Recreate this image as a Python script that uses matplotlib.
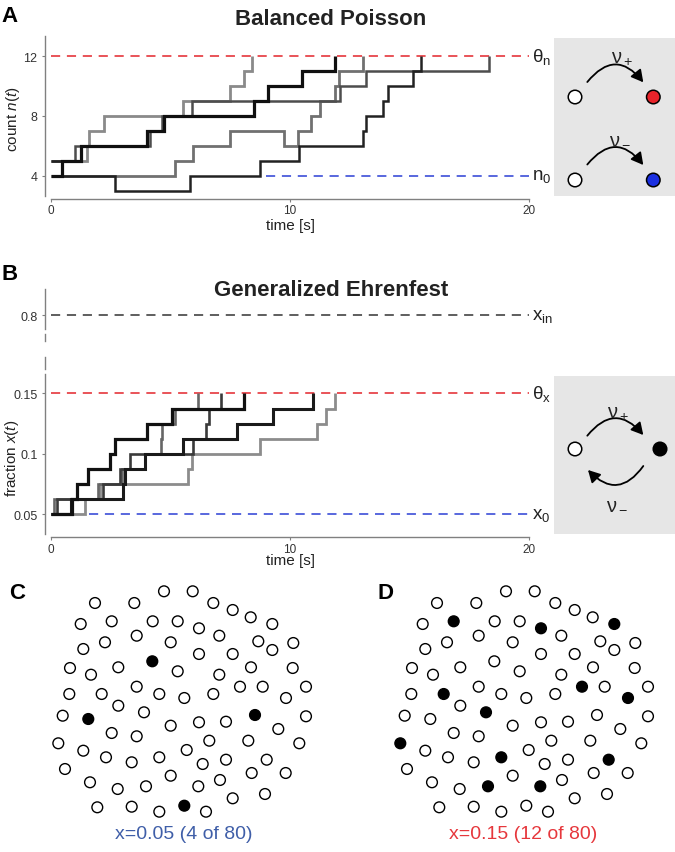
import matplotlib
matplotlib.use('Agg')
import matplotlib.pyplot as plt
import numpy as np
from matplotlib.patches import FancyArrowPatch
from matplotlib.lines import Line2D

plt.rcParams['font.family'] = ['Liberation Sans', 'DejaVu Sans']
plt.rcParams['mathtext.fontset'] = 'custom'
plt.rcParams['mathtext.rm'] = 'Liberation Sans'
plt.rcParams['mathtext.it'] = 'Liberation Sans:italic'
plt.rcParams['mathtext.bf'] = 'Liberation Sans:bold'

# ---- data: panel A, balanced Poisson (jump time [s], count after jump)
a1_t = [0, 1.5, 1.62, 2.23, 5.52, 7.5, 8.08, 8.4]
a1_n = [5, 6, 7, 8, 9, 10, 11, 12]
a2_t = [0, 0.47, 1.26, 4.04, 4.74, 8.5, 9.1, 10.52, 11.9]
a2_n = [4, 5, 6, 7, 8, 9, 10, 11, 12]
a3_t = [0, 5.2, 5.96, 7.49, 9.75, 10.33, 10.88, 11.26, 11.88, 12.07, 13.04]
a3_n = [4, 5, 6, 7, 6, 7, 8, 9, 10, 11, 12]
a4_t = [0, 0.47, 2.68, 5.84, 8.74, 10.38, 13.04, 13.2, 13.9, 14.12, 15.16, 15.47]
a4_n = [5, 4, 3, 4, 5, 6, 7, 8, 9, 10, 11, 12]
a5_t = [0, 1.0, 4.15, 4.65, 5.89, 12.09, 13.18, 18.33]
a5_n = [5, 6, 7, 8, 9, 10, 11, 12]
theta_n = 12
n0 = 4
n0_line_start = 9.0

# ---- data: panel B, generalized Ehrenfest (jump time [s], active units of 80)
n_units = 80
b1_t = [0, 0.88, 1.12, 1.54, 2.49, 2.7, 4.02, 5.07, 8.07]
b1_k = [4, 5, 6, 7, 8, 9, 10, 11, 12]
b2_t = [0, 0.86, 3.03, 3.1, 3.93, 5.54, 7.77, 9.3, 10.98]
b2_k = [4, 5, 6, 7, 8, 9, 10, 11, 12]
b3_t = [0, 0.25, 2.2, 2.9, 3.3, 5.96, 6.5, 6.6, 7.14]
b3_k = [4, 5, 6, 7, 8, 9, 10, 11, 12]
b4_t = [0, 0.15, 1.98, 3.0, 3.93, 4.6, 4.65, 5.2, 6.16]
b4_k = [4, 5, 6, 7, 8, 9, 10, 11, 12]
b5_t = [0, 1.42, 2.05, 5.75, 5.9, 8.74, 11.12, 11.53, 11.88]
b5_k = [4, 5, 6, 7, 8, 9, 10, 11, 12]
theta_x = 0.15
x0 = 0.05
x_in = 0.8
x0_line_start = 1.6
t_end = 20

# ---- data: panels C/D, unit layout (same for both) and active units
dot_x = [114.0, 142.7, 45.0, 84.3, 163.3, 182.7, 200.7, 222.3, 30.7, 61.7,
         102.7, 127.7, 149.0, 169.3, 33.3, 55.0, 86.7, 120.7, 208.3, 222.3,
         243.3, 149.0, 182.7, 102.3, 20.0, 41.0, 68.3, 127.7, 169.3, 201.0,
         242.7, 19.3, 51.7, 86.7, 109.3, 134.3, 163.3, 190.0, 212.7, 236.0,
         256.0, 68.3, 94.0, 12.7, 38.3, 205.0, 256.0, 120.7, 149.0, 176.0,
         228.3, 61.7, 86.7, 159.3, 198.3, 249.3, 8.3, 33.3, 56.0, 81.7,
         109.3, 136.7, 152.7, 176.0, 216.7, 15.0, 120.7, 170.0, 201.7, 235.7,
         40.0, 67.7, 96.0, 148.3, 182.7, 215.0, 47.3, 81.7, 109.3, 134.3, 156.0]
dot_y = [7.3, 7.3, 19.0, 19.0, 19.0, 26.0, 33.3, 40.0, 40.0, 37.3,
         37.3, 37.3, 44.3, 51.7, 65.0, 58.3, 51.7, 58.3, 57.3, 66.0,
         59.0, 70.0, 70.0, 77.3, 84.0, 90.7, 83.3, 87.3, 90.7, 83.3,
         84.0, 110.0, 110.0, 102.7, 110.0, 114.0, 110.0, 102.7, 102.7, 114.0,
         102.7, 121.7, 128.3, 131.7, 135.0, 131.0, 132.3, 141.7, 138.3, 137.7,
         145.0, 149.0, 152.3, 156.7, 156.7, 159.3, 159.3, 166.7, 173.3, 178.3,
         173.3, 166.0, 180.0, 175.7, 175.7, 185.0, 191.7, 196.0, 189.0, 189.0,
         198.3, 205.0, 202.3, 202.3, 214.3, 210.0, 223.3, 222.7, 227.7, 221.7, 227.7]
active_c = [23, 44, 45, 79]
active_d = [7, 9, 12, 32, 37, 39, 42, 56, 60, 64, 72, 73]
caption_c = 'x=0.05 (4 of 80)'
caption_d = 'x=0.15 (12 of 80)'

W, H = 675, 853
fig = plt.figure(figsize=(W / 100, H / 100), dpi=100)


def box(l, t, r, b):
    return [l / W, 1 - b / H, (r - l) / W, (b - t) / H]


def fx(x):
    return x / W


def fy(y):
    return 1 - y / H


AX_GREY = '#808080'
TXT = '#222222'
RED = '#e3242b'
BLUE = '#2b3fd4'
DASH = (6.0, 4.4)


def style_axes(ax, left_out=4, bottom_out=2.2):
    ax.spines[['top', 'right']].set_visible(False)
    for s in ('left', 'bottom'):
        ax.spines[s].set_color(AX_GREY)
        ax.spines[s].set_linewidth(1)
    ax.spines['left'].set_position(('outward', left_out))
    ax.spines['bottom'].set_position(('outward', bottom_out))
    ax.tick_params(length=2.5, width=0.8, color=AX_GREY, labelsize=9,
                   labelcolor='#333333')
    ax.tick_params(axis='y', pad=3)
    ax.tick_params(axis='x', pad=1.5, labelsize=8.5)
    ax.patch.set_alpha(0)


def step_line(ax, t, v, color, lw):
    ax.step(t, v, where='post', color=color, lw=lw,
            solid_joinstyle='miter', solid_capstyle='butt')


def dashed(ax, start, end, val, color):
    ax.plot([start, end], [val, val], color=color, lw=1.1, dashes=DASH)


# ---------------- panel A
axA = fig.add_axes(box(50.7, 36.7, 529, 196.7))
style_axes(axA)
axA.set_xlim(0, t_end)
axA.set_ylim(2.66, 13.38)
axA.set_xticks([0, 10, 20])
axA.set_yticks([4, 8, 12])
dashed(axA, 0, t_end, theta_n, RED)
dashed(axA, n0_line_start, t_end, n0, BLUE)
step_line(axA, a1_t, a1_n, '#8a8a8a', 2.0)
step_line(axA, a3_t, a3_n, '#707070', 2.0)
step_line(axA, a5_t, a5_n, '#4d4d4d', 1.8)
step_line(axA, a4_t, a4_n, '#222222', 1.8)
step_line(axA, a2_t, a2_n, '#101010', 2.3)
axA.text(t_end + 0.12, theta_n, r'$\mathrm{\theta_n}$', fontsize=13.5,
         va='center', ha='left', color=TXT, clip_on=False)
axA.text(t_end + 0.12, n0, r'$\mathrm{n_0}$', fontsize=13.5,
         va='center', ha='left', color=TXT, clip_on=False)

fig.text(fx(331), fy(19.5), 'Balanced Poisson', ha='center', va='center',
         fontsize=16, fontweight='bold', color=TXT)
fig.text(fx(12.5), fy(119.5), r'count $n(t)$', rotation=90, ha='center',
         va='center', fontsize=11, color=TXT)
fig.text(fx(290), fy(226), 'time [s]', ha='center', va='center',
         fontsize=11, color=TXT)

# ---------------- panel B (broken y axis)
axB = fig.add_axes(box(50.7, 375, 529, 535))
style_axes(axB)
axB.set_xlim(0, t_end)
axB.set_ylim(0.0335, 0.1661)
axB.set_xticks([0, 10, 20])
axB.set_yticks([0.05, 0.1, 0.15])
axB.set_yticklabels(['0.05', '0.1', '0.15'])
dashed(axB, 0, t_end, theta_x, RED)
dashed(axB, x0_line_start, t_end, x0, BLUE)
for t, k, c, lw in [(b5_t, b5_k, '#8c8c8c', 2.0), (b4_t, b4_k, '#666666', 1.9),
                    (b3_t, b3_k, '#3a3a3a', 1.9), (b2_t, b2_k, '#1a1a1a', 2.2),
                    (b1_t, b1_k, '#111111', 2.3)]:
    step_line(axB, t, np.array(k) / n_units, c, lw)
axB.text(t_end + 0.12, theta_x, r'$\mathrm{\theta_x}$', fontsize=13.5,
         va='center', ha='left', color=TXT, clip_on=False)
axB.text(t_end + 0.12, x0, r'$\mathrm{x_0}$', fontsize=13.5,
         va='center', ha='left', color=TXT, clip_on=False)

axBu = fig.add_axes(box(50.7, 290, 529, 375))
style_axes(axBu)
axBu.spines['bottom'].set_visible(False)
axBu.set_xticks([])
axBu.set_xlim(0, t_end)
axBu.set_ylim(0.6612, 0.8612)
axBu.spines['left'].set_bounds(0.767, 0.8612)
axBu.set_yticks([x_in])
axBu.set_yticklabels(['0.8'])
dashed(axBu, 0, t_end, x_in, '#333333')
axBu.text(t_end + 0.12, x_in, r'$\mathrm{x_{in}}$', fontsize=13.5,
          va='center', ha='left', color=TXT, clip_on=False)
for y1, y2 in [(335, 342), (358, 370)]:
    fig.add_artist(Line2D([fx(45.1)] * 2, [fy(y1), fy(y2)], color=AX_GREY, lw=1))

fig.text(fx(331), fy(290), 'Generalized Ehrenfest', ha='center', va='center',
         fontsize=16, fontweight='bold', color=TXT)
fig.text(fx(12), fy(458), r'fraction $x(t)$', rotation=90, ha='center',
         va='center', fontsize=11, color=TXT)
fig.text(fx(290), fy(561), 'time [s]', ha='center', va='center',
         fontsize=11, color=TXT)


# ---------------- schematic boxes
def schematic_axes(l, t, r, b):
    ax = fig.add_axes(box(l, t, r, b))
    ax.set_facecolor('#e6e6e6')
    ax.set_xticks([])
    ax.set_yticks([])
    for s in ax.spines.values():
        s.set_visible(False)
    ax.set_xlim(0, r - l)
    ax.set_ylim(b - t, 0)
    return ax


def arc_arrow(ax, p1, p2, rad):
    ax.add_patch(FancyArrowPatch(p1, p2, connectionstyle=f'arc3,rad={rad}',
                                 arrowstyle='-|>,head_length=0.55,head_width=0.3',
                                 mutation_scale=13, lw=1.3, color='black',
                                 shrinkA=0, shrinkB=0))


sA = schematic_axes(554, 39, 675, 197)
sA.scatter([21, 99.3], [59, 59], s=95, c=['white', '#e8232a'], edgecolors='black',
           linewidths=1.1, zorder=3)
sA.scatter([21, 99.3], [142, 142], s=95, c=['white', '#1a2fe0'], edgecolors='black',
           linewidths=1.1, zorder=3)
arc_arrow(sA, (33.3, 44), (89.3, 44.3), -0.62)
arc_arrow(sA, (33.3, 126.5), (89.3, 127), -0.62)
sA.text(67.7, 18.5, r'$\mathrm{\nu_+}$', fontsize=14.5, ha='center', va='center', color=TXT)
sA.text(66, 100, r'$\mathrm{\nu_-}$', fontsize=14.5, ha='center', va='center', color=TXT)

sB = schematic_axes(554, 377, 675, 535)
sB.scatter([21, 106], [73, 73], s=95, c=['white', 'black'], edgecolors='black',
           linewidths=1.1, zorder=3)
arc_arrow(sB, (33.3, 59.7), (89.3, 59), -0.6)
arc_arrow(sB, (89.3, 90), (34, 94), -0.6)
sB.text(64.3, 35, r'$\mathrm{\nu_+}$', fontsize=14.5, ha='center', va='center', color=TXT)
sB.text(62.7, 127, r'$\mathrm{\nu_-}$', fontsize=14.5, ha='center', va='center', color=TXT)


# ---------------- panels C and D
def units_panel(l, active, caption, ccolor, cx):
    ax = fig.add_axes(box(l, 582, l + 280, 825))
    ax.set_xlim(-10, 270)
    ax.set_ylim(240, -3)
    ax.axis('off')
    face = ['black' if i in active else 'white' for i in range(len(dot_x))]
    ax.scatter(dot_x, dot_y, s=60, c=face, edgecolors='black', linewidths=1.0)
    fig.text(fx(cx), fy(835), caption, ha='center', va='center',
             fontsize=14, color=ccolor)


units_panel(40, active_c, caption_c, '#3f5ea8', 183.5)
units_panel(382, active_d, caption_d, '#e6373c', 523.3)

# panel letters
for letter, (px, py) in zip('ABCD', [(9.5, 16), (9.5, 275), (17.5, 593.5), (385, 593.5)]):
    fig.text(fx(px), fy(py), letter, ha='center', va='center', fontsize=16,
             fontweight='bold', color='black')

fig.savefig('out.png', dpi=100)
